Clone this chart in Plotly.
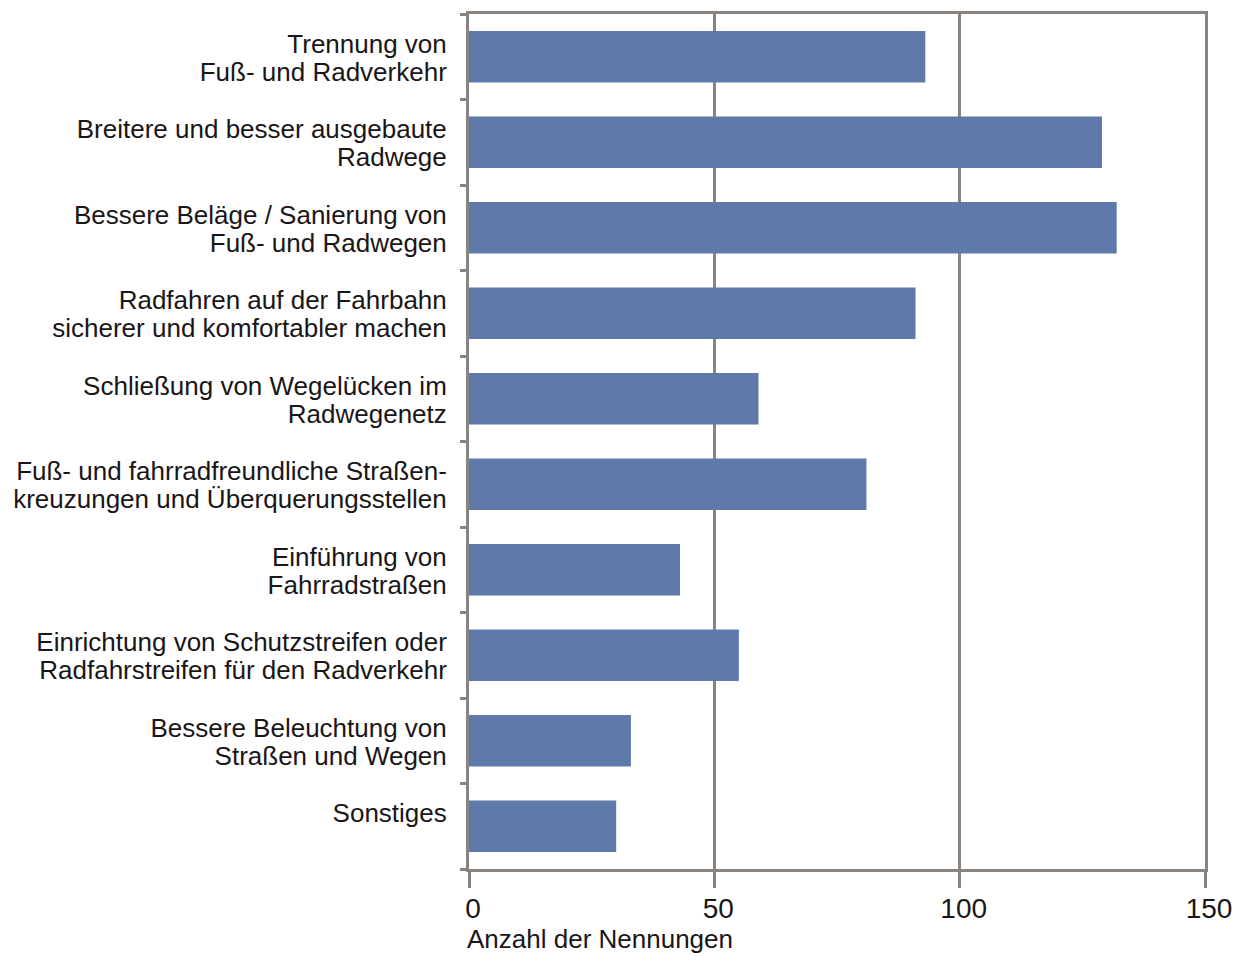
import plotly.graph_objects as go

categories = [
    "Trennung von<br>Fuß- und Radverkehr",
    "Breitere und besser ausgebaute<br>Radwege",
    "Bessere Beläge / Sanierung von<br>Fuß- und Radwegen",
    "Radfahren auf der Fahrbahn<br>sicherer und komfortabler machen",
    "Schließung von Wegelücken im<br>Radwegenetz",
    "Fuß- und fahrradfreundliche Straßen-<br>kreuzungen und Überquerungsstellen",
    "Einführung von<br>Fahrradstraßen",
    "Einrichtung von Schutzstreifen oder<br>Radfahrstreifen für den Radverkehr",
    "Bessere Beleuchtung von<br>Straßen und Wegen",
    "Sonstiges",
]
values = [93, 129, 132, 91, 59, 81, 43, 55, 33, 30]
x_ticks = [0, 50, 100, 150]
x_title = "Anzahl der Nennungen"

GRAY = "#8a8480"
BAR = "#5f79ab"
TXT = "#1a1617"
FONT = "Liberation Sans, Arial, sans-serif"

pos = list(range(len(categories)))
bounds = [p - 0.5 for p in pos] + [len(pos) - 0.5]

# each line of a category label is its own tick, for tight line spacing
line_offsets = [-0.155, 0.172]
label_vals, label_text = [], []
for p, cat in zip(pos, categories):
    for off, line in zip(line_offsets, cat.split("<br>")):
        label_vals.append(p + off)
        label_text.append(line)

fig = go.Figure()
fig.add_trace(go.Bar(
    x=values, y=pos, orientation="h",
    marker=dict(color=BAR, line=dict(width=0)),
    width=0.6, showlegend=False, hoverinfo="x",
))
fig.add_trace(go.Scatter(x=[0], y=[0], yaxis="y2", mode="markers",
                         marker=dict(opacity=0), showlegend=False, hoverinfo="skip"))

fig.update_layout(
    width=1243, height=956,
    margin=dict(l=469, r=36, t=11, b=87),
    paper_bgcolor="white", plot_bgcolor="white",
    font=dict(family=FONT, color=TXT, size=26),
    xaxis=dict(
        range=[0, 150], tickvals=x_ticks, ticktext=[str(t) for t in x_ticks],
        showgrid=True, gridcolor=GRAY, gridwidth=3,
        showline=True, linecolor=GRAY, linewidth=3, mirror=True,
        ticks="outside", ticklen=16, tickwidth=3, tickcolor=GRAY,
        tickfont=dict(size=28, family=FONT, color=TXT),
        ticklabelshift=4, ticklabelstandoff=-4,
        zeroline=False,
    ),
    yaxis=dict(
        range=[len(pos) - 0.5, -0.5], tickvals=label_vals, ticktext=label_text,
        showgrid=False, zeroline=False,
        showline=True, linecolor=GRAY, linewidth=3, mirror=True,
        ticks="", ticklabelstandoff=14,
        tickfont=dict(size=26, family=FONT, color=TXT),
    ),
    yaxis2=dict(
        overlaying="y", side="left", range=[len(pos) - 0.5, -0.5],
        tickvals=bounds, showticklabels=False, showgrid=False, zeroline=False,
        ticks="outside", ticklen=8, tickwidth=3, tickcolor=GRAY,
        showline=False,
    ),
    annotations=[dict(
        text=x_title, xref="paper", yref="paper", x=-0.005, y=0,
        xanchor="left", yanchor="top", yshift=-53, showarrow=False,
        font=dict(size=26, family=FONT, color=TXT),
    )],
)

fig.write_html("out.html")
